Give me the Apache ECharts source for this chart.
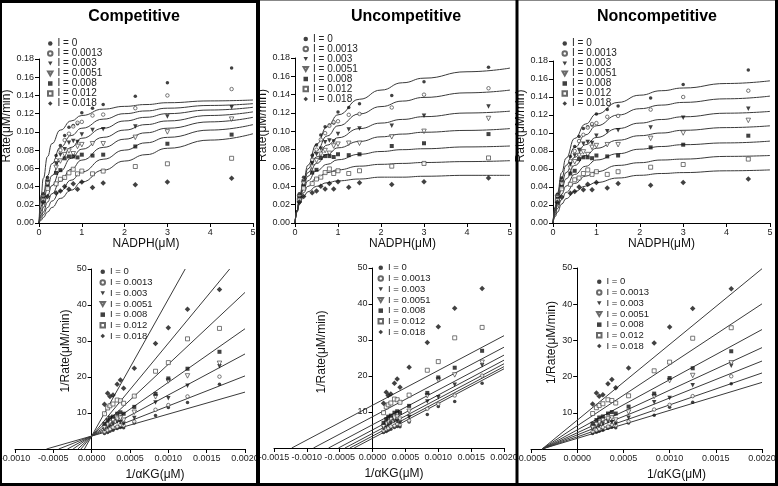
<!DOCTYPE html>
<html>
<head>
<meta charset="utf-8">
<script src="https://cdn.jsdelivr.net/npm/echarts@6/dist/echarts.min.js"></script>
<style>
  html, body { margin: 0; padding: 0; background: #fff; }
  #chart { width: 778px; height: 486px; }
</style>
</head>
<body>
<div id="chart"></div>
<script>
  // inhibitor levels (legend)
  var inhibitors = ['I = 0', 'I = 0.0013', 'I = 0.003', 'I = 0.0051', 'I = 0.008', 'I = 0.012', 'I = 0.018'];

  // rate vs NADPH, measured points (same in all three panels)
  var nadph = [0.1, 0.2, 0.4, 0.5, 0.6, 0.7, 0.8, 0.9, 1.0, 1.25, 1.5, 2.25, 3, 4.5];
  var ratePoints = [
    [0.032, 0.050, 0.074, 0.085, 0.096, 0.105, 0.107, 0.109, 0.121, 0.126, 0.130, 0.139, 0.154, 0.170],
    [0.030, 0.046, 0.069, 0.080, 0.091, 0.098, 0.106, 0.110, 0.111, 0.118, 0.119, 0.126, 0.140, 0.147],
    [0.029, 0.045, 0.065, 0.075, 0.081, 0.088, 0.090, 0.089, 0.097, 0.102, 0.103, 0.106, 0.117, 0.127],
    [0.028, 0.043, 0.061, 0.068, 0.075, 0.079, 0.076, 0.084, 0.086, 0.087, 0.087, 0.094, 0.100, 0.114],
    [0.027, 0.040, 0.055, 0.058, 0.071, 0.073, 0.073, 0.072, 0.075, 0.074, 0.075, 0.084, 0.087, 0.097],
    [0.025, 0.038, 0.043, 0.048, 0.050, 0.055, 0.059, 0.054, 0.057, 0.054, 0.057, 0.062, 0.065, 0.071],
    [0.023, 0.029, 0.033, 0.035, 0.040, 0.037, 0.043, 0.037, 0.045, 0.039, 0.044, 0.042, 0.045, 0.049]
  ];

  // fitted curves at these NADPH values
  var curveX = [0, 0.05, 0.1, 0.2, 0.3, 0.5, 0.75, 1, 1.5, 2, 2.5, 3, 4, 5];
  var compCurves = [
    [0, .030, .049, .073, .087, .102, .112, .118, .125, .128, .130, .132, .134, .135],
    [0, .018, .032, .052, .065, .083, .096, .104, .114, .120, .123, .126, .129, .131],
    [0, .013, .023, .039, .052, .069, .083, .093, .104, .112, .116, .120, .124, .127],
    [0, .009, .017, .030, .041, .057, .071, .081, .094, .102, .108, .112, .118, .122],
    [0, .007, .012, .023, .032, .046, .059, .069, .083, .092, .099, .104, .111, .116],
    [0, .005, .009, .017, .024, .035, .047, .056, .070, .080, .088, .094, .102, .108],
    [0, .003, .006, .012, .017, .027, .036, .045, .058, .068, .075, .082, .091, .098]
  ];
  var uncompCurves = [
    [0, .014, .027, .047, .063, .086, .105, .118, .135, .145, .153, .158, .165, .169],
    [0, .014, .026, .045, .059, .079, .095, .106, .119, .127, .133, .137, .142, .145],
    [0, .014, .025, .043, .055, .072, .085, .093, .103, .109, .113, .116, .120, .122],
    [0, .014, .024, .040, .051, .065, .075, .082, .089, .094, .097, .099, .101, .103],
    [0, .013, .023, .037, .046, .057, .064, .069, .075, .078, .080, .081, .083, .084],
    [0, .013, .022, .033, .040, .049, .055, .058, .062, .064, .065, .066, .067, .068],
    [0, .012, .020, .029, .034, .040, .044, .046, .048, .050, .050, .051, .052, .052]
  ];
  var noncompCurves = [
    [0, .018, .033, .056, .072, .094, .110, .121, .134, .142, .147, .150, .155, .158],
    [0, .016, .030, .050, .064, .084, .098, .108, .120, .127, .131, .134, .138, .141],
    [0, .014, .026, .044, .056, .073, .087, .095, .105, .111, .115, .118, .122, .124],
    [0, .013, .023, .038, .049, .064, .075, .083, .092, .097, .100, .103, .106, .108],
    [0, .011, .019, .032, .041, .054, .063, .070, .077, .082, .085, .087, .089, .091],
    [0, .009, .016, .026, .034, .044, .052, .057, .064, .067, .070, .071, .074, .075],
    [0, .007, .012, .021, .027, .035, .041, .045, .050, .053, .055, .056, .058, .059]
  ];

  // double reciprocal points (same in all three panels)
  var invKG = [0.000167, 0.000208, 0.000238, 0.000278, 0.000333, 0.000375, 0.000417, 0.000556, 0.000833, 0.001, 0.00125, 0.001667];
  var invRatePoints = [
    [4.3, 4.6, 4.9, 5.2, 5.7, 6.0, 5.9, 7.2, 9.3, 11.5, 12.9, 18.0],
    [4.8, 5.2, 5.5, 6.0, 6.2, 6.7, 6.5, 7.6, 10.9, 12.2, 14.6, 20.1],
    [5.5, 6.2, 6.5, 7.0, 7.6, 7.4, 7.0, 8.6, 12.9, 14.1, 17.6, 23.0],
    [6.0, 6.7, 7.3, 8.0, 8.3, 8.6, 8.0, 10.2, 14.5, 18.9, 20.3, 23.8],
    [7.0, 8.0, 8.7, 9.0, 9.8, 10.2, 9.8, 11.7, 15.3, 19.6, 22.3, 27.0],
    [9.8, 11.4, 12.0, 12.5, 13.6, 13.4, 12.7, 14.7, 21.6, 24.0, 30.6, 33.5],
    [12.4, 15.5, 14.6, 15.0, 18.0, 19.2, 16.9, 22.4, 29.3, 33.7, 38.8, 44.3]
  ];

  // fitted straight lines: [x start, x end] and [y start, y end]
  var compLineX = [[-0.00059, 0.002], [-0.00043, 0.002], [-0.000316, 0.002], [-0.000242, 0.002], [-0.00018, 0.002], [-0.00014, 0.0018], [-0.0000947, 0.00122]];
  var compLineY = [[0, 15.8], [0, 20.3], [0, 26.4], [0, 33.4], [0, 43.5], [0, 50], [0, 50]];
  var uncompLineX = [[-0.00028, 0.002], [-0.000345, 0.002], [-0.00042, 0.002], [-0.00052, 0.002], [-0.00067, 0.002], [-0.0009, 0.002], [-0.00123, 0.002]];
  var uncompLineY = [[0, 22.0], [0, 22.6], [0, 23.4], [0, 24.4], [0, 25.8], [0, 28.0], [0, 31.2]];
  var noncompLineX = [[-0.00038, 0.002], [-0.00038, 0.002], [-0.00038, 0.002], [-0.00038, 0.002], [-0.00038, 0.002], [-0.00038, 0.002], [-0.00038, 0.002]];
  var noncompLineY = [[0, 18.4], [0, 21.0], [0, 24.3], [0, 28.0], [0, 33.0], [0, 40.1], [0, 49.8]];

  var font = 'Liberation Sans, Arial, sans-serif';
  var downTri = 'path://M0,0L10,0L5,9Z';
  var marks = [
    { symbol: 'circle', size: 3.5, open: false },
    { symbol: 'circle', size: 3.5, open: true },
    { symbol: downTri, size: 4.5, open: false },
    { symbol: downTri, size: 4.5, open: true },
    { symbol: 'rect', size: 4, open: false },
    { symbol: 'rect', size: 4, open: true },
    { symbol: 'diamond', size: 5.5, open: false }
  ];

  var chart = echarts.init(document.getElementById('chart'));

  function markStyle(m) {
    return m.open ? { color: '#fff', borderColor: '#444', borderWidth: 0.9 } : { color: '#111' };
  }

  function scatterSeries(idx, xs, rows) {
    return rows.map(function (row, i) {
      return {
        name: inhibitors[i], type: 'scatter', xAxisIndex: idx, yAxisIndex: idx,
        symbol: marks[i].symbol, symbolSize: marks[i].size,
        itemStyle: markStyle(marks[i]), silent: true, z: 3,
        data: xs.map(function (x, j) { return [x, row[j]]; })
      };
    });
  }

  function curveSeries(idx, rows) {
    return rows.map(function (row, i) {
      return {
        name: 'fit' + i, type: 'line', xAxisIndex: idx, yAxisIndex: idx,
        smooth: true, smoothMonotone: 'x', showSymbol: false, silent: true, z: 2,
        lineStyle: { color: '#3a3a3a', width: 1 },
        data: curveX.map(function (x, j) { return [x, row[j]]; })
      };
    });
  }

  function straightSeries(idx, lx, ly) {
    return lx.map(function (xs, i) {
      return {
        name: 'fit' + i, type: 'line', xAxisIndex: idx, yAxisIndex: idx,
        showSymbol: false, silent: true, z: 2,
        lineStyle: { color: '#3a3a3a', width: 1 },
        data: [[xs[0], ly[i][0]], [xs[1], ly[i][1]]]
      };
    });
  }

  function axisBase(idx) {
    return {
      type: 'value', gridIndex: idx, nameLocation: 'middle',
      axisLine: { onZero: false, lineStyle: { color: '#000', width: 1 } },
      axisTick: { show: true, length: 4, lineStyle: { color: '#000' } },
      axisLabel: { fontSize: 9, color: '#222', margin: 5, fontFamily: font },
      splitLine: { show: false }
    };
  }

  function xAxisCfg(idx, min, max, step, digits, name, gap, pad) {
    var a = axisBase(idx);
    a.min = min; a.max = max; a.interval = step;
    a.name = name; a.nameGap = gap;
    a.nameTextStyle = { fontSize: 12, color: '#111', fontFamily: font, padding: pad };
    a.axisLabel.formatter = function (v) { return Math.abs(v) < 1e-9 ? (0).toFixed(digits) : v.toFixed(digits); };
    return a;
  }

  // offset moves the y axis (line, labels, name) right to where x = 0
  function yAxisCfg(idx, max, step, digits, name, gap, pad, hideZero, offset) {
    var a = axisBase(idx);
    a.min = 0; a.max = max; a.interval = step;
    a.offset = offset || 0;
    a.name = name; a.nameGap = gap; a.nameRotate = 90;
    a.nameTextStyle = { fontSize: 12, color: '#111', fontFamily: font, padding: pad };
    a.axisLabel.formatter = function (v) { return hideZero && v === 0 ? '' : v.toFixed(digits); };
    return a;
  }

  function legendCfg(left, top, rowH, size) {
    return {
      data: inhibitors, orient: 'vertical', left: left, top: top, padding: 0,
      itemWidth: 4.5, itemHeight: 4.5, itemGap: 0, selectedMode: false,
      textStyle: { fontSize: size, lineHeight: rowH, color: '#222', fontFamily: font }
    };
  }

  function gridCfg(left, top, width, height) {
    return { left: left, top: top, width: width, height: height, containLabel: false, outerBoundsMode: 'none' };
  }

  var grids = [
    gridCfg(39, 59, 214, 164),
    gridCfg(15, 269, 230, 180),
    gridCfg(295, 58, 215, 165),
    gridCfg(274, 268, 230, 180),
    gridCfg(553, 61, 217, 162),
    gridCfg(531, 268, 231, 181)
  ];

  var xAxes = [
    xAxisCfg(0, 0, 5, 1, 0, 'NADPH(\u03bcM)', 14, 0),
    xAxisCfg(1, -0.001, 0.002, 0.0005, 4, '1/\u03b1KG(\u03bcM)', 20, [0, 0, 0, 50]),
    xAxisCfg(2, 0, 5, 1, 0, 'NADPH(\u03bcM)', 14, 0),
    xAxisCfg(3, -0.0015, 0.002, 0.0005, 4, '1/\u03b1KG(\u03bcM)', 20, [0, 0, 0, 10]),
    xAxisCfg(4, 0, 5, 1, 0, 'NADPH(\u03bcM)', 14, 0),
    xAxisCfg(5, -0.0005, 0.002, 0.0005, 4, '1/\u03b1KG(\u03bcM)', 20, [0, 0, 0, 60])
  ];
  var yAxes = [
    yAxisCfg(0, 0.18, 0.02, 2, 'Rate(\u03bcM/min)', 25, [0, 0, 0, 30], false, 0),
    yAxisCfg(1, 50, 10, 0, '1/Rate(\u03bcM/min)', 20, [0, 0, 0, 16], true, -230 / 3),
    yAxisCfg(2, 0.18, 0.02, 2, 'Rate(\u03bcM/min)', 24, [0, 0, 0, 30], false, 0),
    yAxisCfg(3, 50, 10, 0, '1/Rate(\u03bcM/min)', 45, [0, 0, 0, 12], true, -230 * 1.5 / 3.5),
    yAxisCfg(4, 0.18, 0.02, 2, 'Rate(\u03bcM/min)', 23, [0, 0, 0, 32], false, 0),
    yAxisCfg(5, 50, 10, 0, '1/Rate(\u03bcM/min)', 20, [0, 0, 0, 32], true, -231 * 0.5 / 2.5)
  ];

  var series = [].concat(
    curveSeries(0, compCurves), scatterSeries(0, nadph, ratePoints),
    straightSeries(1, compLineX, compLineY), scatterSeries(1, invKG, invRatePoints),
    curveSeries(2, uncompCurves), scatterSeries(2, nadph, ratePoints),
    straightSeries(3, uncompLineX, uncompLineY), scatterSeries(3, invKG, invRatePoints),
    curveSeries(4, noncompCurves), scatterSeries(4, nadph, ratePoints),
    straightSeries(5, noncompLineX, noncompLineY), scatterSeries(5, invKG, invRatePoints)
  );

  function titleCfg(text, x) {
    return { text: text, left: x, top: 4, textAlign: 'center',
      textStyle: { fontSize: 16, fontWeight: 'bold', color: '#000', fontFamily: font } };
  }

  function border(x1, y1, x2, y2, w, c) {
    return { type: 'line', silent: true, z: 100,
      shape: { x1: x1, y1: y1, x2: x2, y2: y2 },
      style: { stroke: c || '#000', lineWidth: w } };
  }

  chart.setOption({
    animation: false,
    backgroundColor: '#fff',
    title: [titleCfg('Competitive', 129), titleCfg('Uncompetitive', 401), titleCfg('Noncompetitive', 652)],
    legend: [
      legendCfg(47, 38.5, 9.4, 10),
      legendCfg(99.5, 266.5, 10.7, 9.5),
      legendCfg(302.5, 34, 10, 10),
      legendCfg(377.5, 262.5, 10.7, 9.5),
      legendCfg(561.5, 38.5, 9.4, 10),
      legendCfg(596, 276.5, 10.7, 9.5)
    ],
    grid: grids,
    xAxis: xAxes,
    yAxis: yAxes,
    series: series,
    graphic: [
      border(0, 1.5, 258, 1.5, 3),
      border(258, 0.5, 778, 0.5, 1, '#888'),
      border(1, 0, 1, 486, 2),
      border(258, 0, 258, 486, 4),
      border(517, 0, 517, 486, 3),
      border(776.5, 0, 776.5, 486, 3),
      border(0, 484.5, 778, 484.5, 3)
    ]
  });
</script>
</body>
</html>
